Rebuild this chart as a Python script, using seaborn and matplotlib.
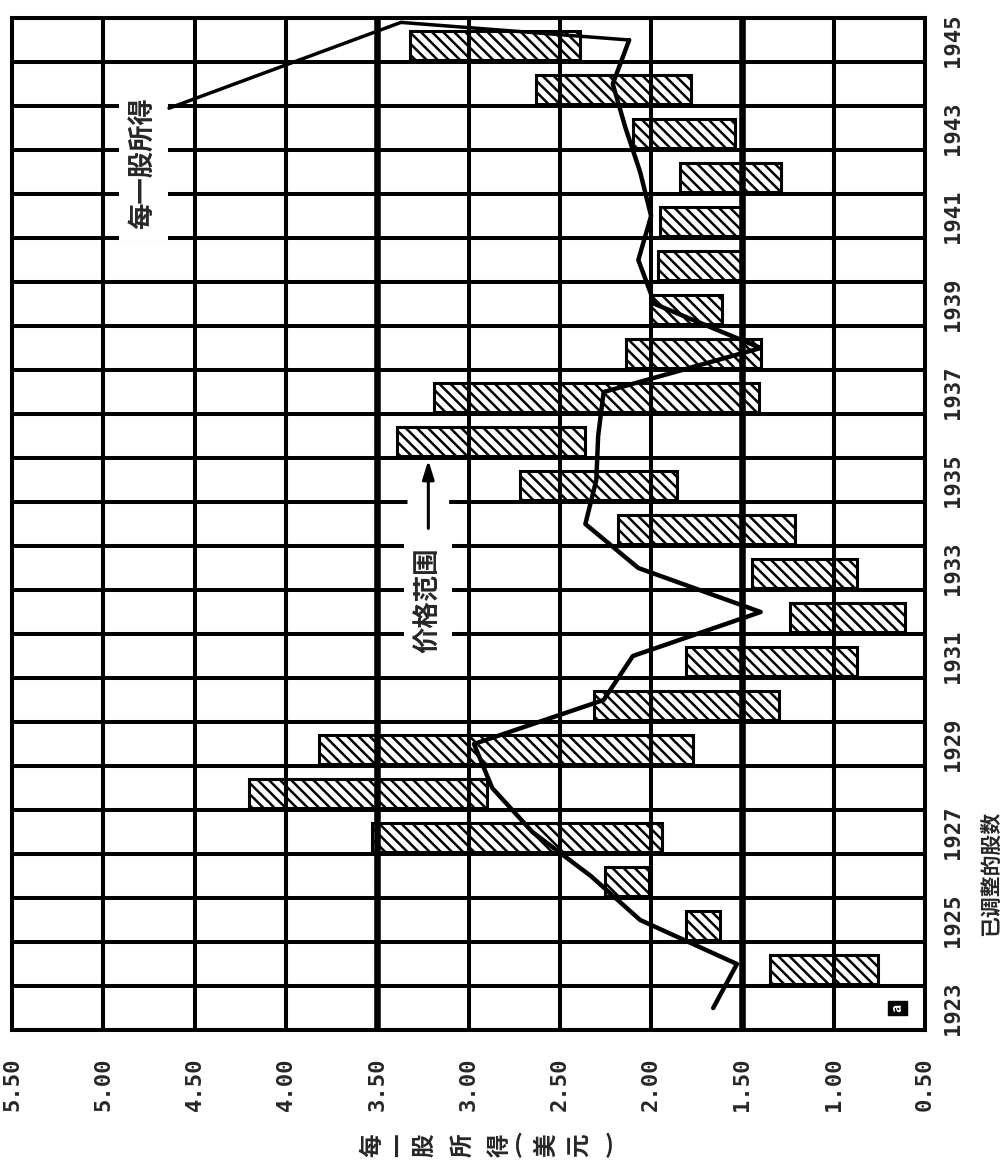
import matplotlib
matplotlib.use('Agg')
import matplotlib.pyplot as plt
import numpy as np
import pandas as pd
import seaborn as sns


# 每一股所得 (one point per year, 1923-1945)
YEARS = list(range(1923, 1946))
EPS = [1.66, 1.53, 2.06, 2.33, 2.65, 2.87, 2.97, 2.26, 2.10, 1.40, 2.07, 2.36,
       2.30, 2.29, 2.26, 1.40, 1.98, 2.07, 2.00, 2.06, 2.14, 2.21, 2.12]

# 价格范围 (low / high per year, 1924-1945)
BAR_YEARS = list(range(1924, 1946))
PRICE_LOW = [0.76, 1.62, 2.01, 1.94, 2.90, 1.77, 1.30, 0.87, 0.61, 0.87, 1.21,
             1.86, 2.36, 1.41, 1.40, 1.61, 1.50, 1.50, 1.29, 1.54, 1.78, 2.39]
PRICE_HIGH = [1.35, 1.81, 2.25, 3.53, 4.20, 3.82, 2.31, 1.81, 1.24, 1.45, 2.18,
              2.72, 3.39, 3.19, 2.14, 2.00, 1.96, 1.95, 1.84, 2.10, 2.63, 3.32]

VALUE_TICKS = [5.5, 5.0, 4.5, 4.0, 3.5, 3.0, 2.5, 2.0, 1.5, 1.0, 0.5]
YEAR_TICKS = list(range(1923, 1946, 2))
HEAVY_LINES = [3.5, 1.5]

X_LABEL = ['每', '一', '股', '所', '得', '(', '美', '元', ')']
Y_LABEL = '已调整的股数'


sns.set_theme(style='white')
plt.rcParams['font.family'] = ['Noto Sans CJK SC', 'DejaVu Sans']
plt.rcParams['hatch.linewidth'] = 1.8

fig = plt.figure(figsize=(10.02, 11.67), dpi=100)
ax = fig.add_axes([12 / 1002, 1 - 1030 / 1167, 913 / 1002, 1012 / 1167])

bars = pd.DataFrame({'year': BAR_YEARS, 'low': PRICE_LOW, 'high': PRICE_HIGH})
ax.barh(bars['year'] - 0.12, bars['high'] - bars['low'], left=bars['low'],
        height=0.66, facecolor='none', edgecolor='black', hatch='\\\\\\',
        linewidth=2.2, zorder=3)

eps = pd.DataFrame({'year': YEARS, 'eps': EPS})
sns.lineplot(data=eps, x='eps', y='year', orient='y', sort=False, estimator=None,
             color='black', lw=3.2, ax=ax, zorder=4)

ax.set_xlim(5.5, 0.5)
ax.set_ylim(1922.5, 1945.5)
ax.set_xlabel('')
ax.set_ylabel('')

mono = dict(fontfamily='DejaVu Sans Mono', fontweight='bold', fontsize=16)
ax.set_xticks(VALUE_TICKS)
ax.set_xticklabels(['%.2f' % v for v in VALUE_TICKS], rotation=90, **mono)
ax.yaxis.tick_right()
ax.set_yticks(YEAR_TICKS)
ax.set_yticklabels([str(y) for y in YEAR_TICKS], rotation=90, va='center', **mono)
ax.set_yticks(np.arange(1922.5, 1946, 1), minor=True)
ax.tick_params(which='both', length=0)
ax.tick_params(axis='x', pad=20)
ax.tick_params(axis='y', pad=13)

ax.grid(axis='x', which='major', color='black', lw=2.9)
ax.grid(axis='y', which='minor', color='black', lw=2.9)
for v in HEAVY_LINES:
    ax.axvline(v, color='black', lw=4.7, zorder=1.6)
for sp in ax.spines.values():
    sp.set_color('black')
    sp.set_linewidth(2.9)

# label for the earnings line, with its leader
ax.text(4.78, 1942.2, '每一股所得', rotation=90, ha='center', va='center',
        fontsize=19, fontweight='bold', zorder=5,
        bbox=dict(boxstyle='square,pad=0.4', fc='white', ec='none'))
ax.annotate('', xy=(EPS[-1], YEARS[-1]), xytext=(3.37, 1945.4),
            arrowprops=dict(arrowstyle='-', lw=2.5, color='black', shrinkA=0, shrinkB=0),
            zorder=4)
ax.annotate('', xy=(3.37, 1945.4), xytext=(4.64, 1943.45),
            arrowprops=dict(arrowstyle='-', lw=2.5, color='black', shrinkA=0, shrinkB=0),
            zorder=6)

# label for the price bars, with its arrow
ax.text(3.22, 1932.27, '价格范围', rotation=90, ha='center', va='center',
        fontsize=19, fontweight='bold', zorder=5,
        bbox=dict(boxstyle='square,pad=0.4', fc='white', ec='none'))
ax.annotate('', xy=(3.22, 1935.3), xytext=(3.22, 1933.75),
            arrowprops=dict(arrowstyle='-', lw=30, color='white', shrinkA=0, shrinkB=0,
                            capstyle='butt'),
            zorder=2.5)
ax.annotate('', xy=(3.22, 1935.45), xytext=(3.22, 1933.9),
            arrowprops=dict(arrowstyle='-|>,head_length=0.8,head_width=0.25', lw=2.2,
                            color='black', shrinkA=0, shrinkB=0, mutation_scale=14),
            zorder=5)

ax.text(0.65, 1923, 'a', rotation=90, color='white', fontsize=10, fontweight='bold',
        ha='center', va='center', zorder=5,
        bbox=dict(boxstyle='square,pad=0.2', fc='black', ec='black'))

# axis titles, written sideways like the scan
x_offsets = [372, 399, 424, 462, 500, 518, 546, 580, 609]
for ch, px in zip(X_LABEL, x_offsets):
    rot = 0 if ch in '()' else 90
    fig.text(px / 1002, 1 - 1145 / 1167, ch, rotation=rot, ha='center', va='center',
             fontsize=17, fontweight='bold')
fig.text(990 / 1002, 1 - 873 / 1167, Y_LABEL, rotation=90, ha='center', va='center',
         fontsize=15, fontweight='bold')

fig.savefig('out.png', dpi=100)
